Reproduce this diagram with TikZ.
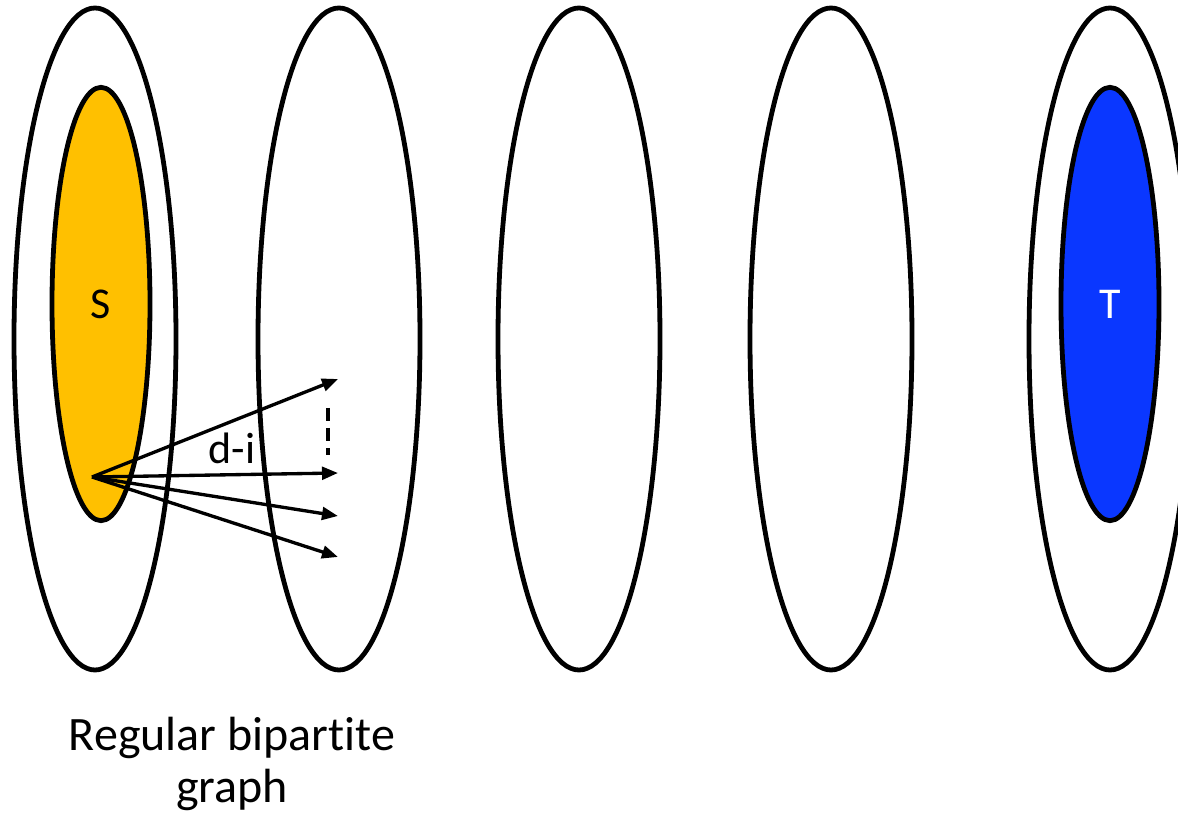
\documentclass[tikz,border=0pt]{standalone}
\usepackage{fontspec}
\setmainfont[Ligatures=CommonOff]{Carlito}
\usepackage{tikz}
\usetikzlibrary{positioning,arrows.meta,shapes.geometric}
\definecolor{sorange}{RGB}{255,192,0}
\definecolor{tblue}{RGB}{10,55,255}

\begin{document}
\begin{tikzpicture}[
  x=0.75pt,y=-0.75pt,
  every node/.style={font=\fontsize{33}{40}\selectfont},
  part/.style={ellipse,draw,line width=3.6pt,inner sep=0pt,minimum width=121.5pt,minimum height=496.5pt},
  subset/.style={ellipse,draw,line width=3.6pt,inner sep=0pt,minimum width=73.5pt,minimum height=325pt},
  arrow/.style={-{Triangle[length=12pt,width=9.5pt]},line width=2.5pt}
]
  \useasboundingbox (0,0) rectangle (1178,816);
  \foreach \x [count=\i] in {95,339,579,831,1110}{
    \node[part] (p\i) at (\x,339) {};
  }
  \node[subset,fill=sorange] (s) at (101,304) {S};
  \node[subset,fill=tblue,text=white] (t) at (1110,304) {T};
  % edges out of one vertex of S
  \coordinate (v) at (92,477);
  \coordinate (e1) at (338,379);
  \coordinate (e2) at (338,473);
  \coordinate (e3) at (338,516);
  \coordinate (e4) at (338,557);
  \foreach \j in {1,...,4}{
    \draw[arrow] (v) -- (e\j);
  }
  \coordinate (d1) at (328,408);
  \coordinate (d2) at (328,455);
  \draw[line width=2.6pt,dash pattern=on 10pt off 5pt] (d1) -- (d2);
  \node (di) at (232,448) {d-i};
  \node[align=center,font=\fontsize{36}{39}\selectfont] (lbl) at (232,764) {Regular bipartite\\graph};
\end{tikzpicture}
\end{document}
